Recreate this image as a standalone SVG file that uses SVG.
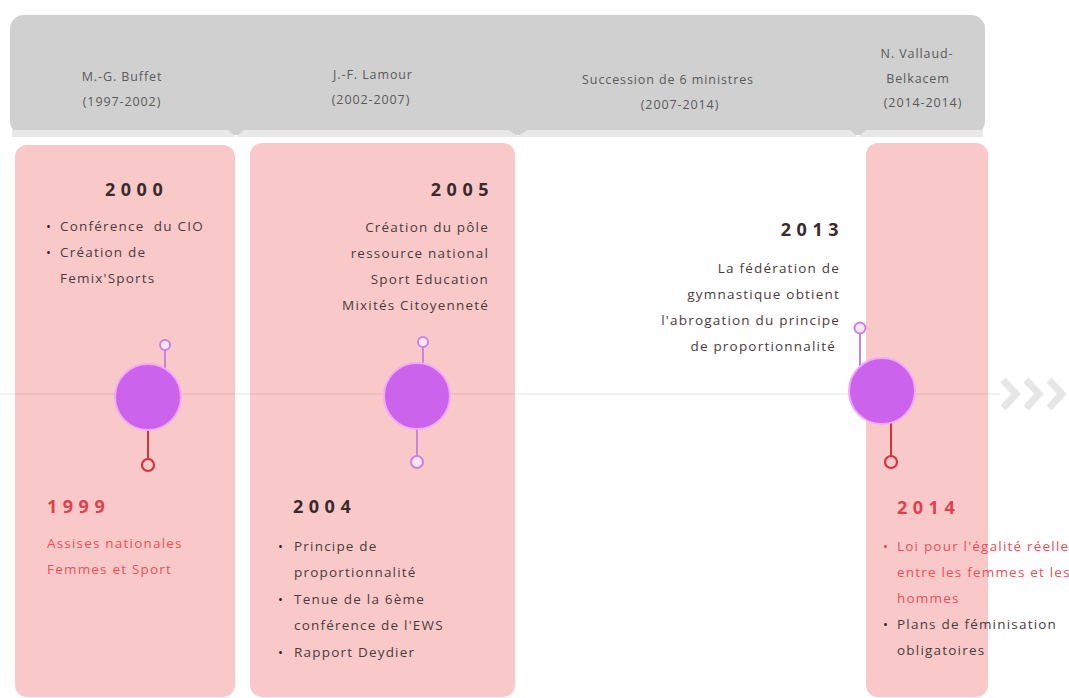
<svg xmlns="http://www.w3.org/2000/svg" width="1069" height="698" viewBox="0 0 1069 698">
<style>
.hdr{font-family:"Open Sans","Liberation Sans",sans-serif;font-size:12.5px;fill:#5a5a5a;text-anchor:middle;letter-spacing:0.9px}
.yr{font-family:"Open Sans","Liberation Sans",sans-serif;font-size:18px;font-weight:700;letter-spacing:5.5px;fill:#3a2a2e}
.yr.red{fill:#e0404e}
.t{font-family:"Open Sans","Liberation Sans",sans-serif;font-size:13.5px;fill:#4a3c3e;letter-spacing:1.2px}
.t.red{fill:#e8505a}
.b{font-family:"Open Sans","Liberation Sans",sans-serif;font-size:13px;fill:#2a2022}
.b.red{fill:#e0404e}
.r{text-anchor:end}
.panel{fill:#f9c9c9}
.big{fill:#cb63ec;stroke:#f2a9f4;stroke-width:2}
.pin{fill:#fbe4f7;stroke:#c684dc;stroke-width:2}
.pinr{fill:#f9c9c9;stroke:#d8303e;stroke-width:2.2}
.stem{stroke:#c684dc;stroke-width:2}
.stemr{stroke:#d8303e;stroke-width:2}
</style>
<rect width="1069" height="698" fill="#ffffff"/>
<g id="header">
<rect x="10" y="15" width="975" height="120" rx="14" fill="#d0d0d0"/>
<path d="M12 130 H228 L236 137 L244 130 H508 L518 136 L528 130 H850 L858 137 L866 130 H983 V137 H12 Z" fill="#e8e8e8"/>
<text class="hdr" x="122" y="81">M.-G. Buffet</text>
<text class="hdr" x="122" y="106">(1997-2002)</text>
<text class="hdr" x="373" y="79">J.-F. Lamour</text>
<text class="hdr" x="371" y="104">(2002-2007)</text>
<text class="hdr" x="668" y="84">Succession de 6 ministres</text>
<text class="hdr" x="680" y="109">(2007-2014)</text>
<text class="hdr" x="917" y="58">N. Vallaud-</text>
<text class="hdr" x="918" y="83">Belkacem</text>
<text class="hdr" x="923" y="107">(2014-2014)</text>
</g>
<g id="panels">
<rect class="panel" x="15" y="145" width="220" height="552" rx="12"/>
<rect class="panel" x="250" y="143" width="265" height="554" rx="12"/>
<rect class="panel" x="866" y="143" width="122" height="554" rx="12"/>
</g>
<g id="connectors">
<line x1="0" y1="394" x2="1000" y2="394" stroke="#000" stroke-opacity="0.05" stroke-width="2"/>
<g fill="none" stroke="#e6e6e6" stroke-width="7" stroke-linejoin="miter">
<path d="M1003 380 L1016 394 L1003 408"/>
<path d="M1026 380 L1039 394 L1026 408"/>
<path d="M1049 380 L1062 394 L1049 408"/>
</g>
<line class="stem" x1="165" y1="350" x2="165" y2="368"/>
<line class="stemr" x1="148" y1="428" x2="148" y2="459"/>
<line class="stem" x1="423" y1="347" x2="423" y2="366"/>
<line class="stem" x1="417" y1="426" x2="417" y2="456"/>
<line class="stem" x1="860" y1="333" x2="860" y2="368"/>
<line class="stemr" x1="891" y1="420" x2="891" y2="456"/>
</g>
<g id="node-2000-1999">
<circle class="big" cx="148" cy="397" r="33"/>
<circle class="pin" cx="165" cy="345" r="5"/>
<circle class="pinr" cx="148" cy="465" r="6"/>
<text class="yr" x="105" y="196">2000</text>
<text class="b" x="46" y="231">•</text>
<text class="t" x="60" y="231" xml:space="preserve">Conférence  du CIO</text>
<text class="b" x="46" y="257">•</text>
<text class="t" x="60" y="257">Création de</text>
<text class="t" x="60" y="283">Femix'Sports</text>
<text class="yr red" x="47" y="513">1999</text>
<text class="t red" x="47" y="548">Assises nationales</text>
<text class="t red" x="47" y="574">Femmes et Sport</text>
</g>
<g id="node-2005-2004">
<circle class="big" cx="417" cy="396" r="33"/>
<circle class="pin" cx="423" cy="342" r="5"/>
<circle class="pin" cx="417" cy="462" r="6"/>
<text class="yr r" x="494" y="196">2005</text>
<text class="t r" x="489" y="232">Création du pôle</text>
<text class="t r" x="489" y="258">ressource national</text>
<text class="t r" x="489" y="284">Sport Education</text>
<text class="t r" x="489" y="310">Mixités Citoyenneté</text>
<text class="yr" x="293" y="513">2004</text>
<text class="b" x="278" y="551">•</text>
<text class="t" x="294" y="551">Principe de</text>
<text class="t" x="294" y="577">proportionnalité</text>
<text class="b" x="278" y="604">•</text>
<text class="t" x="294" y="604">Tenue de la 6ème</text>
<text class="t" x="294" y="630">conférence de l'EWS</text>
<text class="b" x="278" y="657">•</text>
<text class="t" x="294" y="657">Rapport Deydier</text>
</g>
<g id="node-2013-2014">
<circle class="big" cx="882" cy="391" r="33"/>
<circle class="pin" cx="860" cy="328" r="5.5"/>
<circle class="pinr" cx="891" cy="462" r="6"/>
<text class="yr r" x="844" y="236">2013</text>
<text class="t r" x="840" y="273">La fédération de</text>
<text class="t r" x="840" y="299">gymnastique obtient</text>
<text class="t r" x="840" y="325">l'abrogation du principe</text>
<text class="t r" x="836" y="351">de proportionnalité</text>
<text class="yr red" x="897" y="514">2014</text>
<text class="b red" x="883" y="551">•</text>
<text class="t red" x="897" y="551">Loi pour l'égalité réelle</text>
<text class="t red" x="897" y="577">entre les femmes et les</text>
<text class="t red" x="897" y="603">hommes</text>
<text class="b" x="883" y="629">•</text>
<text class="t" x="897" y="629">Plans de féminisation</text>
<text class="t" x="897" y="655">obligatoires</text>
</g>
</svg>
